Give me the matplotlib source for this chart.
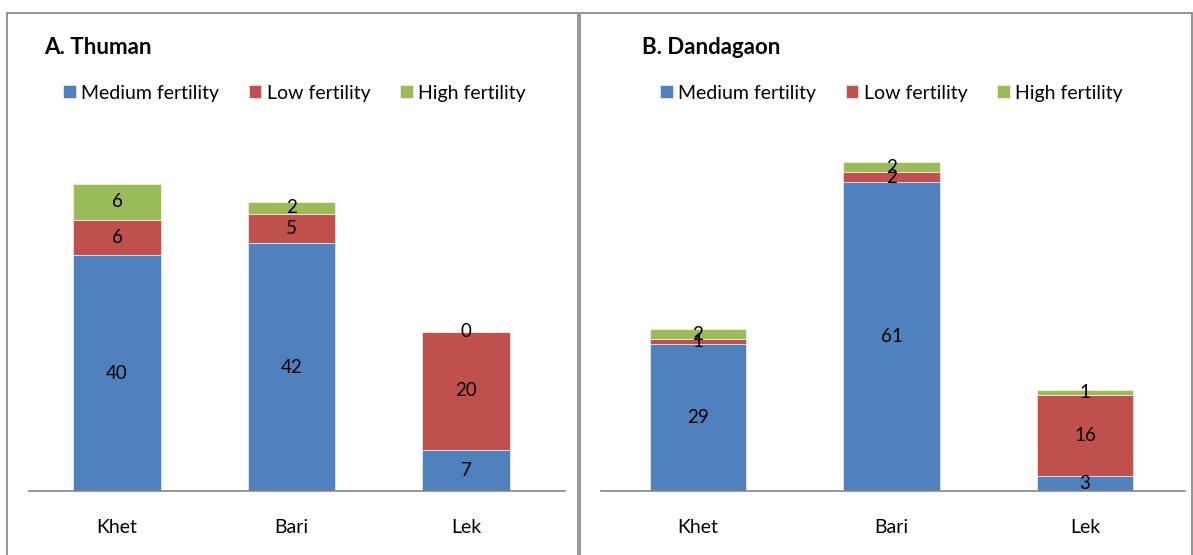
import matplotlib.pyplot as plt
from matplotlib.patches import Rectangle

plt.rcParams["font.family"] = ["Lato", "DejaVu Sans"]

categories = ["Khet", "Bari", "Lek"]
series_names = ["Medium fertility", "Low fertility", "High fertility"]
colors = ["#4F81BD", "#C0504D", "#9BBB59"]

# A. Thuman
thuman_medium = [40, 42, 7]
thuman_low = [6, 5, 20]
thuman_high = [6, 2, 0]

# B. Dandagaon
dandagaon_medium = [29, 61, 3]
dandagaon_low = [1, 2, 16]
dandagaon_high = [2, 2, 1]

W, H = 1193, 555
fig = plt.figure(figsize=(W / 100, H / 100), dpi=100)


def px_box(x0, y0, x1, y1):
    # pixel box (from top-left) -> figure fraction [left, bottom, width, height]
    return [x0 / W, 1 - y1 / H, (x1 - x0) / W, (y1 - y0) / H]


# panel borders
for x0, x1 in [(7, 578), (580, 1192)]:
    fig.patches.append(Rectangle((x0 / W, -0.05), (x1 - x0) / W, 1.05 - 13 / H,
                                 transform=fig.transFigure, fill=False,
                                 edgecolor="#8C8C8C", linewidth=1.3))

panels = [
    ("A. Thuman", [thuman_medium, thuman_low, thuman_high],
     (29, 150, 565, 491), (-0.504, 2.567), 57.8, 44, 63),
    ("B. Dandagaon", [dandagaon_medium, dandagaon_low, dandagaon_high],
     (601, 150, 1185, 491), (-0.501, 2.517), 67.4, 642, 660),
]

for title, series, box, xlim, ytop, title_x, leg_x in panels:
    ax = fig.add_axes(px_box(*box))
    bottom = [0, 0, 0]
    handles = []
    for name, vals, col in zip(series_names, series, colors):
        bars = ax.bar(range(len(categories)), vals, width=0.5, bottom=bottom,
                      color=col, label=name, edgecolor="white", linewidth=0.4)
        ax.bar_label(bars, labels=[str(v) for v in vals], label_type="center",
                     fontsize=13.5, color="black")
        handles.append(bars)
        bottom = [b + v for b, v in zip(bottom, vals)]

    ax.set_xlim(*xlim)
    ax.set_ylim(0, ytop)
    ax.set_xticks(range(len(categories)))
    ax.set_xticklabels(categories, fontsize=14)
    ax.tick_params(axis="x", length=0, pad=20)
    ax.set_yticks([])
    for s in ["top", "left", "right"]:
        ax.spines[s].set_visible(False)
    ax.spines["bottom"].set_color("#868686")
    ax.spines["bottom"].set_linewidth(1.2)

    fig.text(title_x / W, 1 - 47 / H, title, fontsize=16, fontweight="bold",
             va="center", ha="left")

    ax.legend(handles=handles, loc="center left",
              bbox_to_anchor=(leg_x / W, 1 - 93 / H), bbox_transform=fig.transFigure,
              ncol=3, frameon=False, fontsize=14, handlelength=0.65,
              handleheight=0.65, handletextpad=0.3, columnspacing=1.5,
              borderaxespad=0, borderpad=0)

fig.savefig("out.png", dpi=100)
